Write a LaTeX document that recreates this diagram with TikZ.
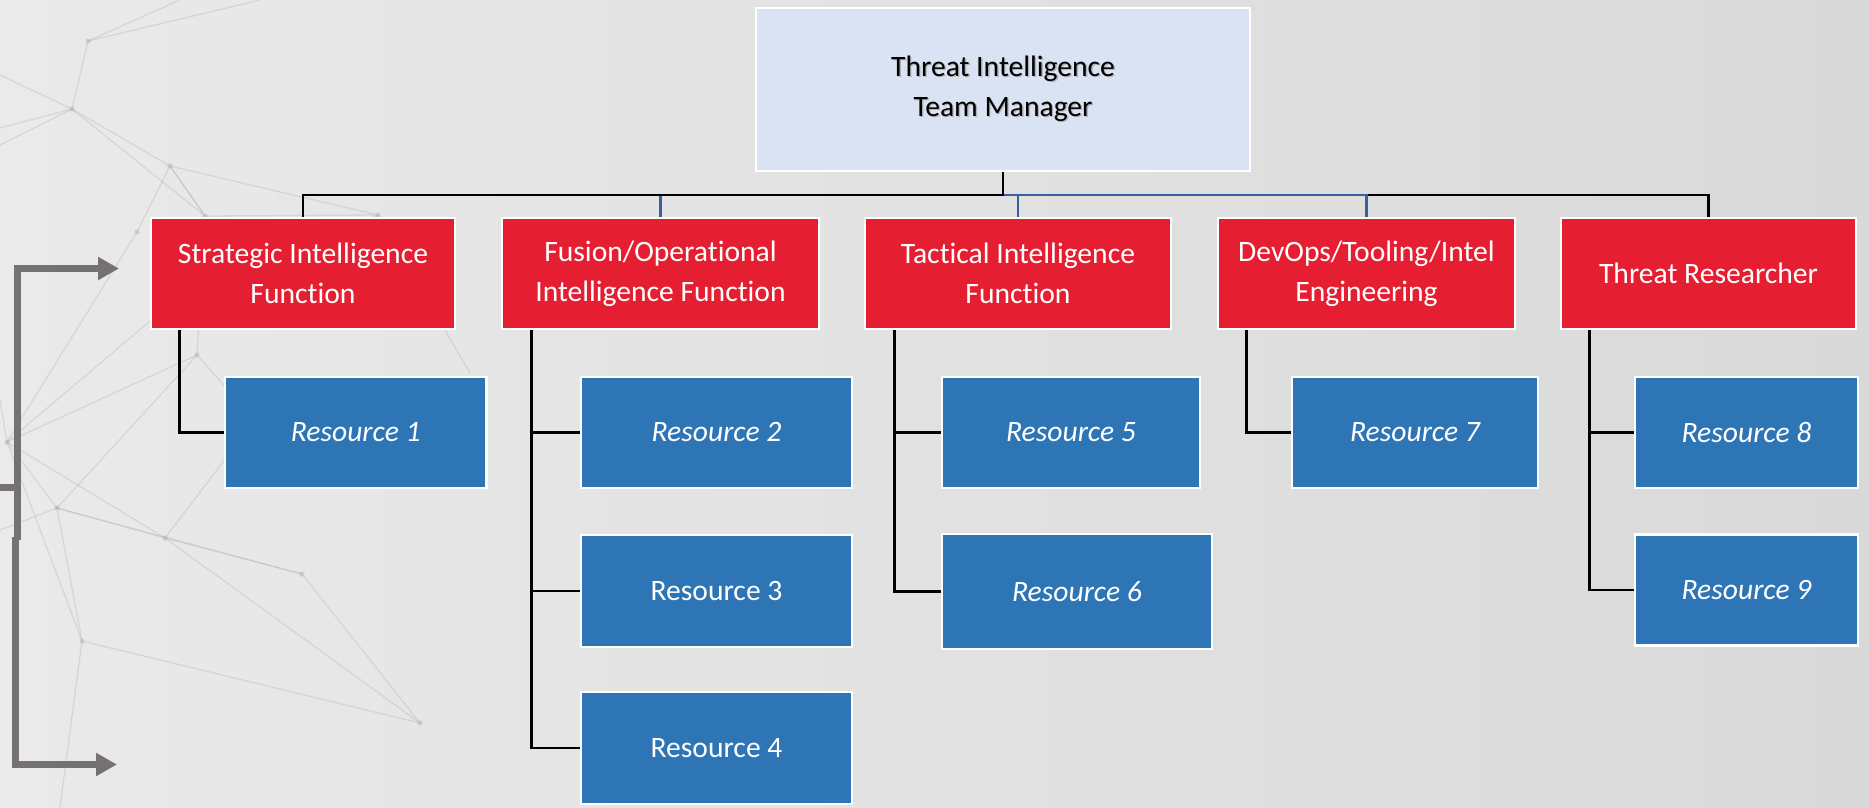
\documentclass[tikz,border=0pt]{standalone}
\usepackage{fontspec}
\setmainfont{Carlito}[Ligatures=NoCommon]
\usetikzlibrary{arrows.meta,calc}

\definecolor{bgL}{HTML}{EAEAEA}
\definecolor{bgR}{HTML}{D9D9D9}
\definecolor{netgray}{HTML}{B0B0B0}
\definecolor{mgrfill}{HTML}{DAE3F3}
\definecolor{funcred}{HTML}{E61E32}
\definecolor{resblue}{HTML}{2E75B6}
\definecolor{linkblue}{HTML}{3A5E9E}
\definecolor{arrowgray}{HTML}{767171}

\newcommand\shadowed[1]{\makebox[0pt][l]{\hspace{1.4pt}\raisebox{-1.4pt}{\textcolor{black!30}{#1}}}#1}

\tikzset{
  box/.style={draw=white, line width=2.6pt, inner sep=0pt, align=center,
    font=\fontsize{29.6}{40}\selectfont},
  mgrbox/.style={box, fill=mgrfill, text=black},
  funcbox/.style={box, fill=funcred, text=white},
  resbox/.style={box, fill=resblue, text=white},
  blk/.style={draw=black, line width=2.5pt},
  blu/.style={draw=linkblue, line width=2.2pt},
  bracket/.style={draw=arrowgray, line width=7pt},
  net/.style={draw=netgray, line width=1.3pt, opacity=0.32},
  netdot/.style={fill=netgray, opacity=0.45}
}

\begin{document}
\begin{tikzpicture}[x=1pt,y=-1pt]
% page and background
\useasboundingbox (0,0) rectangle (1869,807);
\shade[left color=bgL, right color=bgR] (0,0) rectangle (1869,807);

% faint network pattern on the left
\coordinate (p1) at (72,109);
\coordinate (p2) at (170,166);
\coordinate (p3) at (137,232);
\coordinate (p4) at (7,442);
\coordinate (p5) at (57,508);
\coordinate (p6) at (165,538);
\coordinate (p7) at (197,355);
\coordinate (p8) at (82,641);
\coordinate (p9) at (420,723);
\coordinate (p10) at (378,215);
\coordinate (p11) at (302,574);
\coordinate (p12) at (88,41);
\coordinate (p13) at (205,216);
\coordinate (p14) at (470,373);
\draw[net] (0,145) -- (p1) -- (p2) -- (p10);
\draw[net] (0,75) -- (p1) -- (p12) -- (180,0);
\draw[net] (p1) -- (p13) -- (p2);
\draw[net] (p1) -- (0,128);
\draw[net] (p12) -- (260,0);
\draw[net] (p2) -- (p13) -- (p10) -- (p14);
\draw[net] (p3) -- (p2);
\draw[net] (p3) -- (p4) -- (p7) -- (p13);
\draw[net] (p4) -- (p6) -- (p11);
\draw[net] (p4) -- (p5) -- (p6);
\draw[net] (p5) -- (p11) -- (p9);
\draw[net] (p5) -- (p7);
\draw[net] (p4) -- (p8) -- (p9);
\draw[net] (p5) -- (0,530);
\draw[net] (p4) -- (0,400);
\draw[net] (p4) -- (175,300) -- (p10);
\draw[net] (p6) -- (p9);
\draw[net] (p8) -- (60,807);
\draw[net] (p5) -- (p8);
\draw[net] (p6) -- (255,420) -- (p7);
\foreach \p in {p1,p2,p3,p4,p5,p6,p7,p8,p9,p10,p11,p12,p13}
  \fill[netdot] (\p) circle (2.6);

% grey bracket arrows
\coordinate (bmid) at (17.5,540);
\coordinate (btop) at (119,268.5);
\coordinate (bbot) at (117,764.5);
\coordinate (bstub) at (0,487.5);
\draw[bracket, -{Triangle[length=21pt,width=22pt]}] (bmid) |- (btop);
\draw[bracket, -{Triangle[length=21pt,width=22pt]}] (15.5,536.5) |- (bbot);
\draw[bracket] (bstub) -- (bstub -| bmid);

% manager
\node[mgrbox, minimum width=494, minimum height=163] (mgr) at (1003,89.5)
  {\shadowed{Threat Intelligence}\\\shadowed{Team Manager}};

% functions
\node[funcbox, minimum width=304, minimum height=111] (str) at (303,273.5)
  {Strategic Intelligence\\Function};
\node[funcbox, minimum width=317, minimum height=111] (fus) at (660.5,273.5)
  {Fusion/Operational\\Intelligence Function};
\node[funcbox, minimum width=306, minimum height=111] (tac) at (1018,273.5)
  {Tactical Intelligence\\Function};
\node[funcbox, minimum width=297, minimum height=111] (dev) at (1366.5,273.5)
  {DevOps/Tooling/Intel\\Engineering};
\node[funcbox, minimum width=295, minimum height=111] (thr) at (1708.5,273.5)
  {Threat Researcher};

% resources
\node[resbox, minimum width=261.5, minimum height=111] (r1) at (355.7,432.5) {\itshape Resource 1};
\node[resbox, minimum width=271, minimum height=111] (r2) at (716.5,432.5) {\itshape Resource 2};
\node[resbox, minimum width=271, minimum height=112] (r3) at (716.5,591) {Resource 3};
\node[resbox, minimum width=271, minimum height=112] (r4) at (716.5,748) {Resource 4};
\node[resbox, minimum width=258, minimum height=111] (r5) at (1071,432.5) {\itshape Resource 5};
\node[resbox, minimum width=270, minimum height=115] (r6) at (1077,591.5) {\itshape Resource 6};
\node[resbox, minimum width=246, minimum height=111] (r7) at (1415,432.5) {\itshape Resource 7};
\node[resbox, minimum width=223, minimum height=111] (r8) at (1746.5,432.5) {\itshape Resource 8};
\node[resbox, minimum width=223, minimum height=111] (r9) at (1746.5,590) {\itshape Resource 9};

% manager to functions
\coordinate (hub) at (1003,195);
\draw[blk] (mgr.south) -- (hub) -| (thr.north);
\draw[blu] (hub) -| (fus.north);
\draw[blu] (hub) -| (tac.north);
\draw[blu] (hub) -| (dev.north);
\draw[blk] (mgr.south) -- (hub) -| (str.north);

% functions to resources
\draw[blk] ([xshift=30pt]str.south west) |- (r1.west);

\draw[blk] ([xshift=31pt]fus.south west) coordinate (fv) |- (r4.west);
\draw[blk] (r2.west) -- (r2.west -| fv);
\draw[blk] (r3.west) -- (r3.west -| fv);

\draw[blk] ([xshift=31pt]tac.south west) coordinate (tv) |- (r6.west);
\draw[blk] (r5.west) -- (r5.west -| tv);

\draw[blk] ([xshift=30pt]dev.south west) |- (r7.west);

\draw[blk] ([xshift=30pt]thr.south west) coordinate (hv) |- (r9.west);
\draw[blk] (r8.west) -- (r8.west -| hv);
\end{tikzpicture}
\end{document}
